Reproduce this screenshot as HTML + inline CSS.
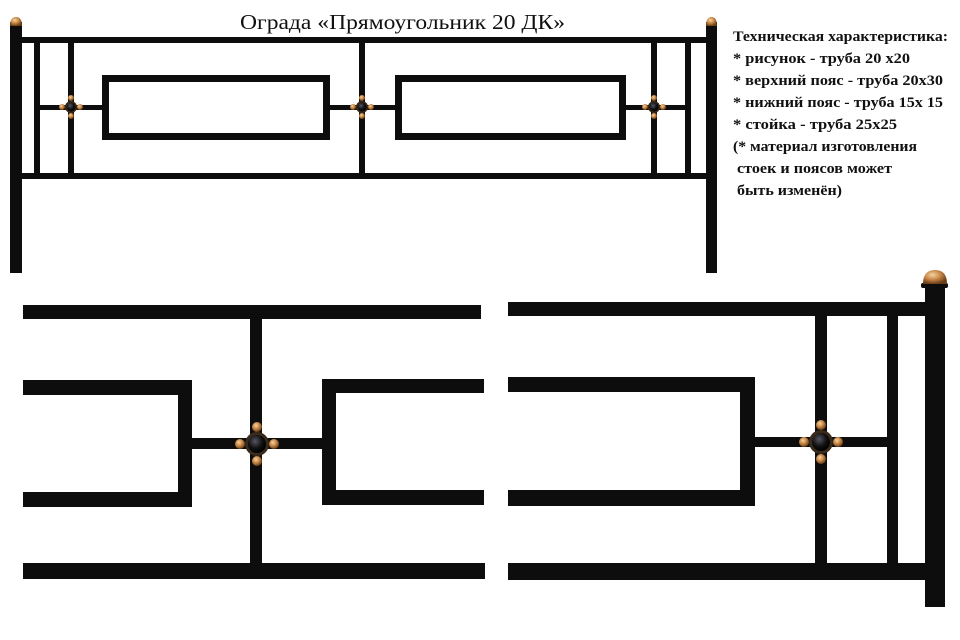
<!DOCTYPE html>
<html><head><meta charset="utf-8"><style>
html,body{margin:0;padding:0;background:#fff;}
svg{display:block;}
text{font-family:"Liberation Serif","Noto Serif CJK SC",serif;fill:#111;}
</style></head><body>
<svg width="960" height="640" viewBox="0 0 960 640" xmlns="http://www.w3.org/2000/svg">
<defs>
<radialGradient id="g" cx="40%" cy="35%" r="65%"><stop offset="0" stop-color="#f6d3a0"/><stop offset="0.5" stop-color="#c98a4a"/><stop offset="1" stop-color="#6b3d16"/></radialGradient>
<radialGradient id="b" cx="40%" cy="35%" r="65%"><stop offset="0" stop-color="#556"/><stop offset="0.6" stop-color="#111"/><stop offset="1" stop-color="#000"/></radialGradient>
<g id="med">
<circle cx="0" cy="-9" r="3" fill="url(#g)"/><circle cx="0" cy="9" r="3" fill="url(#g)"/>
<circle cx="-9" cy="0" r="3" fill="url(#g)"/><circle cx="9" cy="0" r="3" fill="url(#g)"/>
<circle cx="0" cy="0" r="6" fill="#3a2a1a"/><circle cx="0" cy="0" r="4.5" fill="url(#b)"/>
</g>
<g id="medL">
<circle cx="0" cy="-17" r="5" fill="url(#g)"/><circle cx="0" cy="17" r="5" fill="url(#g)"/>
<circle cx="-17" cy="0" r="5" fill="url(#g)"/><circle cx="17" cy="0" r="5" fill="url(#g)"/>
<circle cx="0" cy="0" r="12" fill="#3a2a1a"/><circle cx="0" cy="0" r="9" fill="url(#b)"/>
</g>
</defs>
<g fill="#0d0d0d">
<!-- top fence -->
<rect x="10" y="22" width="12" height="251"/>
<rect x="706" y="22" width="11" height="251"/>
<rect x="22" y="37" width="684" height="6"/>
<rect x="22" y="173" width="684" height="6"/>
<rect x="34" y="43" width="6" height="130"/>
<rect x="68" y="43" width="6" height="130"/>
<rect x="359" y="43" width="6" height="130"/>
<rect x="651" y="43" width="6" height="130"/>
<rect x="685" y="43" width="6" height="130"/>
<rect x="40" y="105" width="62" height="5"/>
<rect x="330" y="105" width="66" height="5"/>
<rect x="625" y="105" width="60" height="5"/>
</g>
<rect x="105.5" y="78.5" width="221" height="58" fill="none" stroke="#0d0d0d" stroke-width="7"/>
<rect x="398.5" y="78.5" width="224" height="58" fill="none" stroke="#0d0d0d" stroke-width="7"/>
<path d="M10 26 Q10 17 16 17 Q22 17 22 26Z" fill="url(#g)"/>
<path d="M706 26 Q706 17 711.5 17 Q717 17 717 26Z" fill="url(#g)"/>
<use href="#med" x="71" y="107"/><use href="#med" x="362" y="107"/><use href="#med" x="654" y="107"/>

<!-- bottom left -->
<g fill="#0d0d0d">
<rect x="23" y="305" width="458" height="14"/>
<rect x="250" y="319" width="12" height="244"/>
<rect x="23" y="563" width="462" height="16"/>
<rect x="23" y="380" width="169" height="15"/>
<rect x="178" y="380" width="14" height="127"/>
<rect x="23" y="492" width="169" height="15"/>
<rect x="192" y="438" width="130" height="11"/>
<rect x="322" y="379" width="14" height="126"/>
<rect x="322" y="379" width="162" height="14"/>
<rect x="322" y="490" width="162" height="15"/>
<!-- bottom right -->
<rect x="508" y="302" width="417" height="14"/>
<rect x="925" y="288" width="20" height="319"/>
<rect x="508" y="563" width="417" height="17"/>
<rect x="508" y="377" width="247" height="15"/>
<rect x="740" y="377" width="15" height="129"/>
<rect x="508" y="490" width="247" height="16"/>
<rect x="755" y="437" width="133" height="10"/>
<rect x="815" y="316" width="12" height="247"/>
<rect x="887" y="316" width="11" height="247"/>
<rect x="921" y="283" width="27" height="5" rx="2"/>
</g>
<path d="M923 284 Q923 270 935 270 Q947 270 947 284Z" fill="url(#g)"/>
<use href="#medL" x="257" y="444"/>
<use href="#medL" x="821" y="442"/>

<text x="240" y="29" font-size="21" textLength="325" lengthAdjust="spacingAndGlyphs">Ограда «Прямоугольник 20 ДК»</text>
<g font-size="15" font-weight="bold">
<text x="733" y="41" textLength="215" lengthAdjust="spacingAndGlyphs">Техническая характеристика:</text>
<text x="733" y="63" textLength="177" lengthAdjust="spacingAndGlyphs">* рисунок - труба 20 х20</text>
<text x="733" y="85" textLength="210" lengthAdjust="spacingAndGlyphs">* верхний пояс - труба 20х30</text>
<text x="733" y="107" textLength="210" lengthAdjust="spacingAndGlyphs">* нижний пояс - труба 15х 15</text>
<text x="733" y="129" textLength="164" lengthAdjust="spacingAndGlyphs">* стойка - труба 25х25</text>
<text x="733" y="151" textLength="184" lengthAdjust="spacingAndGlyphs">(* материал изготовления</text>
<text x="737" y="173" textLength="155" lengthAdjust="spacingAndGlyphs">стоек и поясов может</text>
<text x="737" y="195" textLength="105" lengthAdjust="spacingAndGlyphs">быть изменён)</text>
</g>
</svg>
</body></html>
